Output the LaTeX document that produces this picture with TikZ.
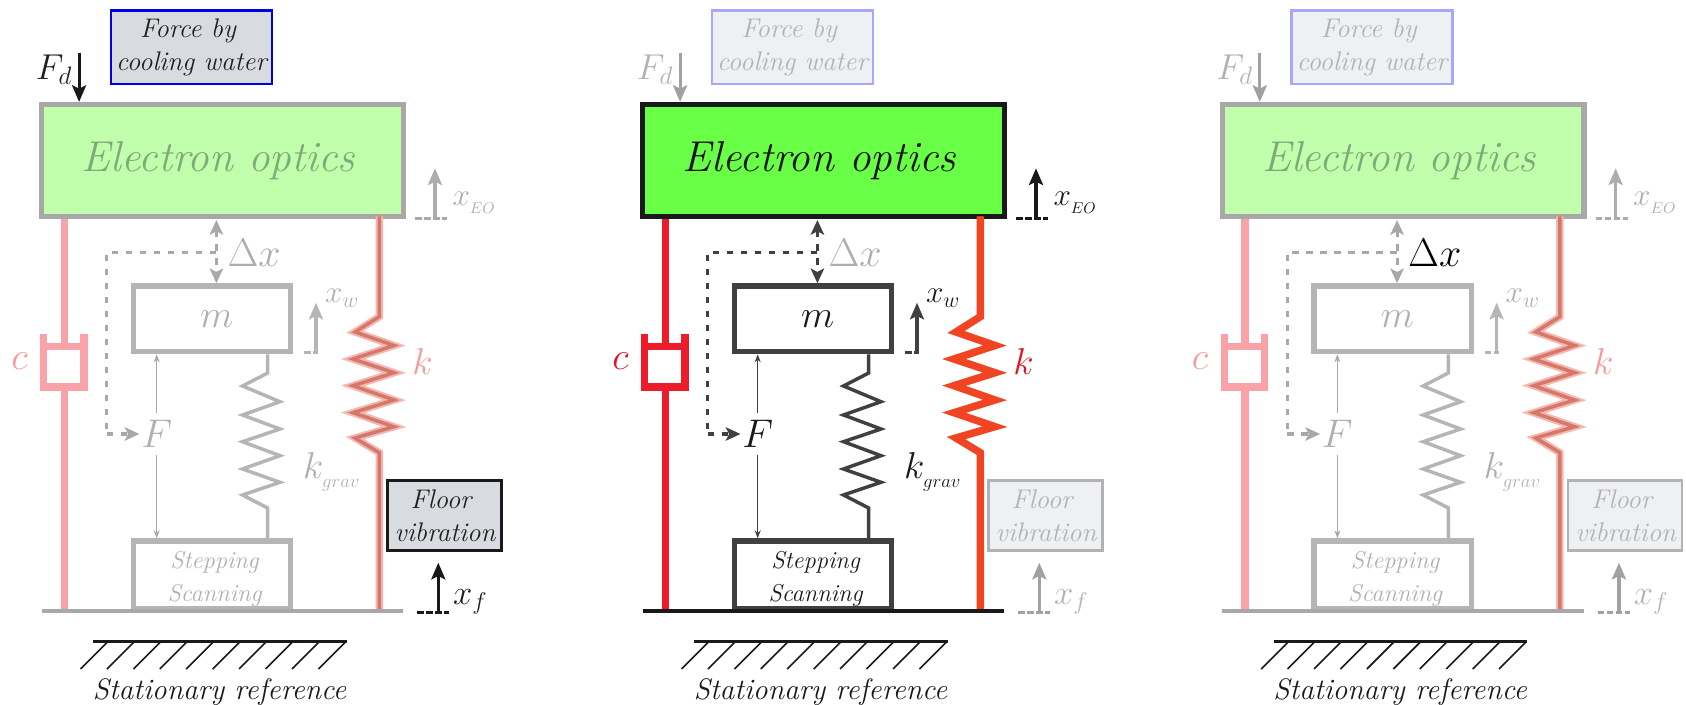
\documentclass[tikz,border=0pt]{standalone}
\usepackage{fix-cm}
\usetikzlibrary{arrows.meta}

\tikzset{every picture/.style={line width=0.75pt}}
\newcommand{\fsz}[1]{\fontsize{#1}{#1}\selectfont}

%colour sets of the three panels
\newcommand{\disturbloud}{\colorlet{dboxforce}{blue!90!black}\colorlet{dboxfloor}{black!90}\definecolor{dboxfill}{RGB}{216,219,224}\colorlet{dtext}{black!88}\colorlet{darrow}{black!90}}
\newcommand{\disturbfaint}{\definecolor{dboxforce}{RGB}{170,165,255}\colorlet{dboxfloor}{black!30}\definecolor{dboxfill}{RGB}{239,240,243}\colorlet{dtext}{black!30}\colorlet{darrow}{black!37}}
\newcommand{\plantloud}{\definecolor{eofill}{RGB}{106,255,71}\colorlet{eoline}{black!90}\colorlet{eotext}{black!92}\colorlet{waferline}{black!75}\colorlet{wafertext}{black!90}\definecolor{dampcol}{RGB}{237,28,42}\definecolor{kpale}{RGB}{240,68,35}\definecolor{kcore}{RGB}{240,68,35}\definecolor{ktext}{RGB}{224,20,36}\colorlet{groundcol}{black!90}\colorlet{gapcol}{black!75}\colorlet{motionlab}{black!90}}
\newcommand{\plantfaint}{\definecolor{eofill}{RGB}{193,255,173}\colorlet{eoline}{black!34}\definecolor{eotext}{RGB}{127,170,120}\colorlet{waferline}{black!29}\colorlet{wafertext}{black!31}\definecolor{dampcol}{RGB}{249,163,168}\definecolor{kpale}{RGB}{246,183,174}\definecolor{kcore}{RGB}{213,120,108}\definecolor{ktext}{RGB}{245,154,154}\colorlet{groundcol}{black!34}\colorlet{gapcol}{black!34}\colorlet{motionlab}{black!32}}

\tikzset{
  bodybox/.style={draw=eoline,fill=eofill,text=eotext,line width=4pt,minimum width=271.4pt,minimum height=84pt,inner sep=0pt,font=\itshape\fsz{32.4}},
  waferbox/.style={draw=waferline,fill=white,text=wafertext,line width=4pt,minimum width=118pt,inner sep=0pt},
  forcebox/.style={draw=dboxforce,fill=dboxfill,text=dtext,line width=2pt,minimum width=120.8pt,minimum height=55.4pt,inner sep=0pt,align=center,font={\itshape\fsz{20.2}\baselineskip=24.5pt}},
  floorbox/.style={draw=dboxfloor,fill=dboxfill,text=dtext,line width=1.9pt,minimum width=85.6pt,minimum height=52.4pt,inner sep=0pt,align=center,font={\itshape\fsz{20.2}\baselineskip=24.5pt}},
  stagetext/.style={inner sep=0pt,text=wafertext,align=center,font={\itshape\fsz{18.3}\baselineskip=25pt}},
  motion/.style={-{Stealth[length=12.5pt,width=10.5pt,inset=2.5pt]},line width=2.4pt},
  refdash/.style={line width=2.2pt,dash pattern=on 5pt off 1.8pt},
  sigdash/.style={gapcol,line width=2.3pt,dash pattern=on 5pt off 5.5pt},
  sighead/.style={sigdash,{Stealth[length=11pt,width=10pt,inset=2.5pt]}-{Stealth[length=11pt,width=10pt,inset=2.5pt]}},
  thinarrow/.style={{Stealth[length=6pt,width=4.5pt]}-,gapcol,line width=0.9pt},
  dampline/.style={dampcol,line width=5.4pt},
  springk/.style={kcore,line width=2.6pt,preaction={draw=kpale,line width=5.6pt}},
  springg/.style={waferline,line width=2.6pt},
  mathlab/.style={inner sep=0pt,text=#1,font=\fsz{28}},
  smalllab/.style={inner sep=0pt,text=#1,font=\fsz{23.5}},
}

\newcommand{\drawpanel}[1]{%
%Shape: Electron optics
\node[bodybox] (eobox) at (222.45,160.65) {\hspace*{-6pt}\raisebox{-1.5pt}{Electron optics}};
%Straight Lines: damper rod and cup
\coordinate (pistontop) at (64.3,346.7);
\coordinate (pistonbot) at (64.3,387);
\coordinate (groundl) at (41.5,611);
\coordinate (groundr) at (403.3,611);
\draw[dampline] (eobox.south -| pistontop) -- (pistontop) (pistonbot) -- (pistonbot |- groundl) ;
\draw[dampline] (43.7,334.3) -- (43.7,387) -- (84,387) -- (84,334.3) (43.7,346.7) -- (84,346.7) ;
\node[mathlab=ktext,font=\fsz{29}] (clabel) at (19.4,361) {$c$};
%Curve Lines: main spring
\coordinate (springtop) at (379.3,316.7);
\coordinate (springbot) at (379.3,452.7);
\draw[springk] (379.3,216.5) -- (springtop) -- (355,332) -- (394,345.5) -- (353,359) -- (394,372.7) -- (353,385.7) -- (394,400) -- (353,412.7) -- (394,426.7) -- (355,438) -- (springbot) -- (springbot |- groundl) ;
\node[mathlab=ktext] (klabel) at (422.6,362) {$k$};
%Shape: mass and stage
\node[waferbox,minimum height=49.3pt,font=\fsz{29}] (massbox) at (212,318.8) {\hspace*{7pt}\raisebox{-1pt}{$m$}};
\node[waferbox,minimum height=51pt] (stagebox) at (212,575) {};
\node[stagetext] (stagelabel) at (214.5,579) {Stepping\\Scanning};
%Curve Lines: gravity spring
\draw[springg] (massbox.south -| 267.7,0) -- (267.7,373) -- (242.5,386) -- (280,401.7) -- (242.5,415) -- (280,429) -- (242.5,441.7) -- (280,455.7) -- (242.5,469) -- (280,482.3) -- (242.5,495) -- (267.7,508) -- (stagebox.north -| 267.7,0) ;
\node[mathlab=wafertext,anchor=west] (kgravlabel) at (302.6,472) {$k_{_{grav}}$};
%Straight Lines: ground and stationary reference
\draw[groundcol,line width=2.7pt] (groundl) -- (groundr) ;
\draw[black!90,line width=2.7pt] (93,641.7) -- (346.5,641.7) ;
\draw[black!90,line width=1.2pt] (80.5,669) -- (107.5,642) (106.9,669) -- (133.9,642) (133.4,669) -- (160.4,642) (159.8,669) -- (186.8,642) (186.2,669) -- (213.2,642) (212.7,669) -- (239.7,642) (239.1,669) -- (266.1,642) (265.6,669) -- (292.6,642) (292,669) -- (319,642) (318.4,669) -- (345.4,642) ;
\node[inner sep=0pt,text=black!90,font=\itshape\fsz{22.2}] (reflabel) at (219.5,692) {Stationary reference};
%Shape: disturbances
\node[forcebox] (forcenode) at (191.4,47.2) {Force by\hspace*{5pt}\\cooling water};
\node[floorbox] (floornode) at (444.35,515.5) {Floor\hspace*{5pt}\\\hspace*{1pt}vibration};
\node[mathlab=dtext,font=\fsz{27}] (fdlabel) at (54,70) {$F_d$};
\coordinate (fdtop) at (79.1,53);
\draw[motion,darrow] (fdtop) -- (eobox.north -| fdtop) ;
%Straight Lines: motions
\draw[refdash,eoline!70!motionlab] (415,218.3) -- (447,218.3) ;
\coordinate (eoref) at (435,218.3);
\draw[motion,motionlab] (eoref) -- ++(0,-50) ;
\node[smalllab=motionlab,anchor=west] (xeolabel) at (452,203) {$x_{_{EO}}$};
\draw[refdash,waferline] (304,352.7) -- (318,352.7) ;
\coordinate (wref) at (316,352.7);
\draw[motion,waferline] (wref) -- ++(0,-50) ;
\node[smalllab=wafertext,anchor=west] (xwlabel) at (324.5,298) {$x_w$};
\draw[refdash,darrow] (417,612.7) -- (449,612.7) ;
\coordinate (fref) at (438.3,612.7);
\draw[motion,darrow] (fref) -- ++(0,-50) ;
\node[mathlab=dtext,font=\fsz{26},anchor=west] (xflabel) at (452.7,602) {$x_f$};
%Straight Lines: gap and actuator signal
\coordinate (gaptop) at (216.4,220);
\coordinate (gapmid) at (216.4,252.5);
\coordinate (gapcorner) at (106.7,252.5);
\draw[sighead] (gaptop) -- (gaptop |- massbox.north) ;
\node[mathlab=#1,font=\fsz{30},anchor=west] (gaplabel) at (227,253) {$\Delta x$};
\node[inner xsep=1pt,inner ysep=5pt,text=wafertext,font=\fsz{30}] (flabel) at (156.7,434) {$F$};
\draw[sigdash] (gapmid) -- (gapcorner) -- (gapcorner |- flabel) ;
\draw[sigdash,-{Stealth[length=11pt,width=10pt,inset=2.5pt]}] (gapcorner |- flabel) -- (flabel.west) ;
\draw[thinarrow] (flabel.north |- massbox.south) -- (flabel.north) ;
\draw[thinarrow] (flabel.south |- stagebox.north) -- (flabel.south) ;
}

\begin{document}
\begin{tikzpicture}[x=0.75pt,y=0.75pt,yscale=-1,xscale=1]
\useasboundingbox (0,0) rectangle (1686,705);

%Panel: disturbances
\begin{scope}[name prefix=left-]
\disturbloud\plantfaint
\drawpanel{black!32}
\end{scope}

%Panel: plant
\begin{scope}[xshift=450.75pt,name prefix=mid-]
\disturbfaint\plantloud
\drawpanel{black!32}
\end{scope}

%Panel: measured gap
\begin{scope}[xshift=885.5pt,name prefix=right-]
\disturbfaint\plantfaint
\drawpanel{black}
\end{scope}

\end{tikzpicture}
\end{document}
